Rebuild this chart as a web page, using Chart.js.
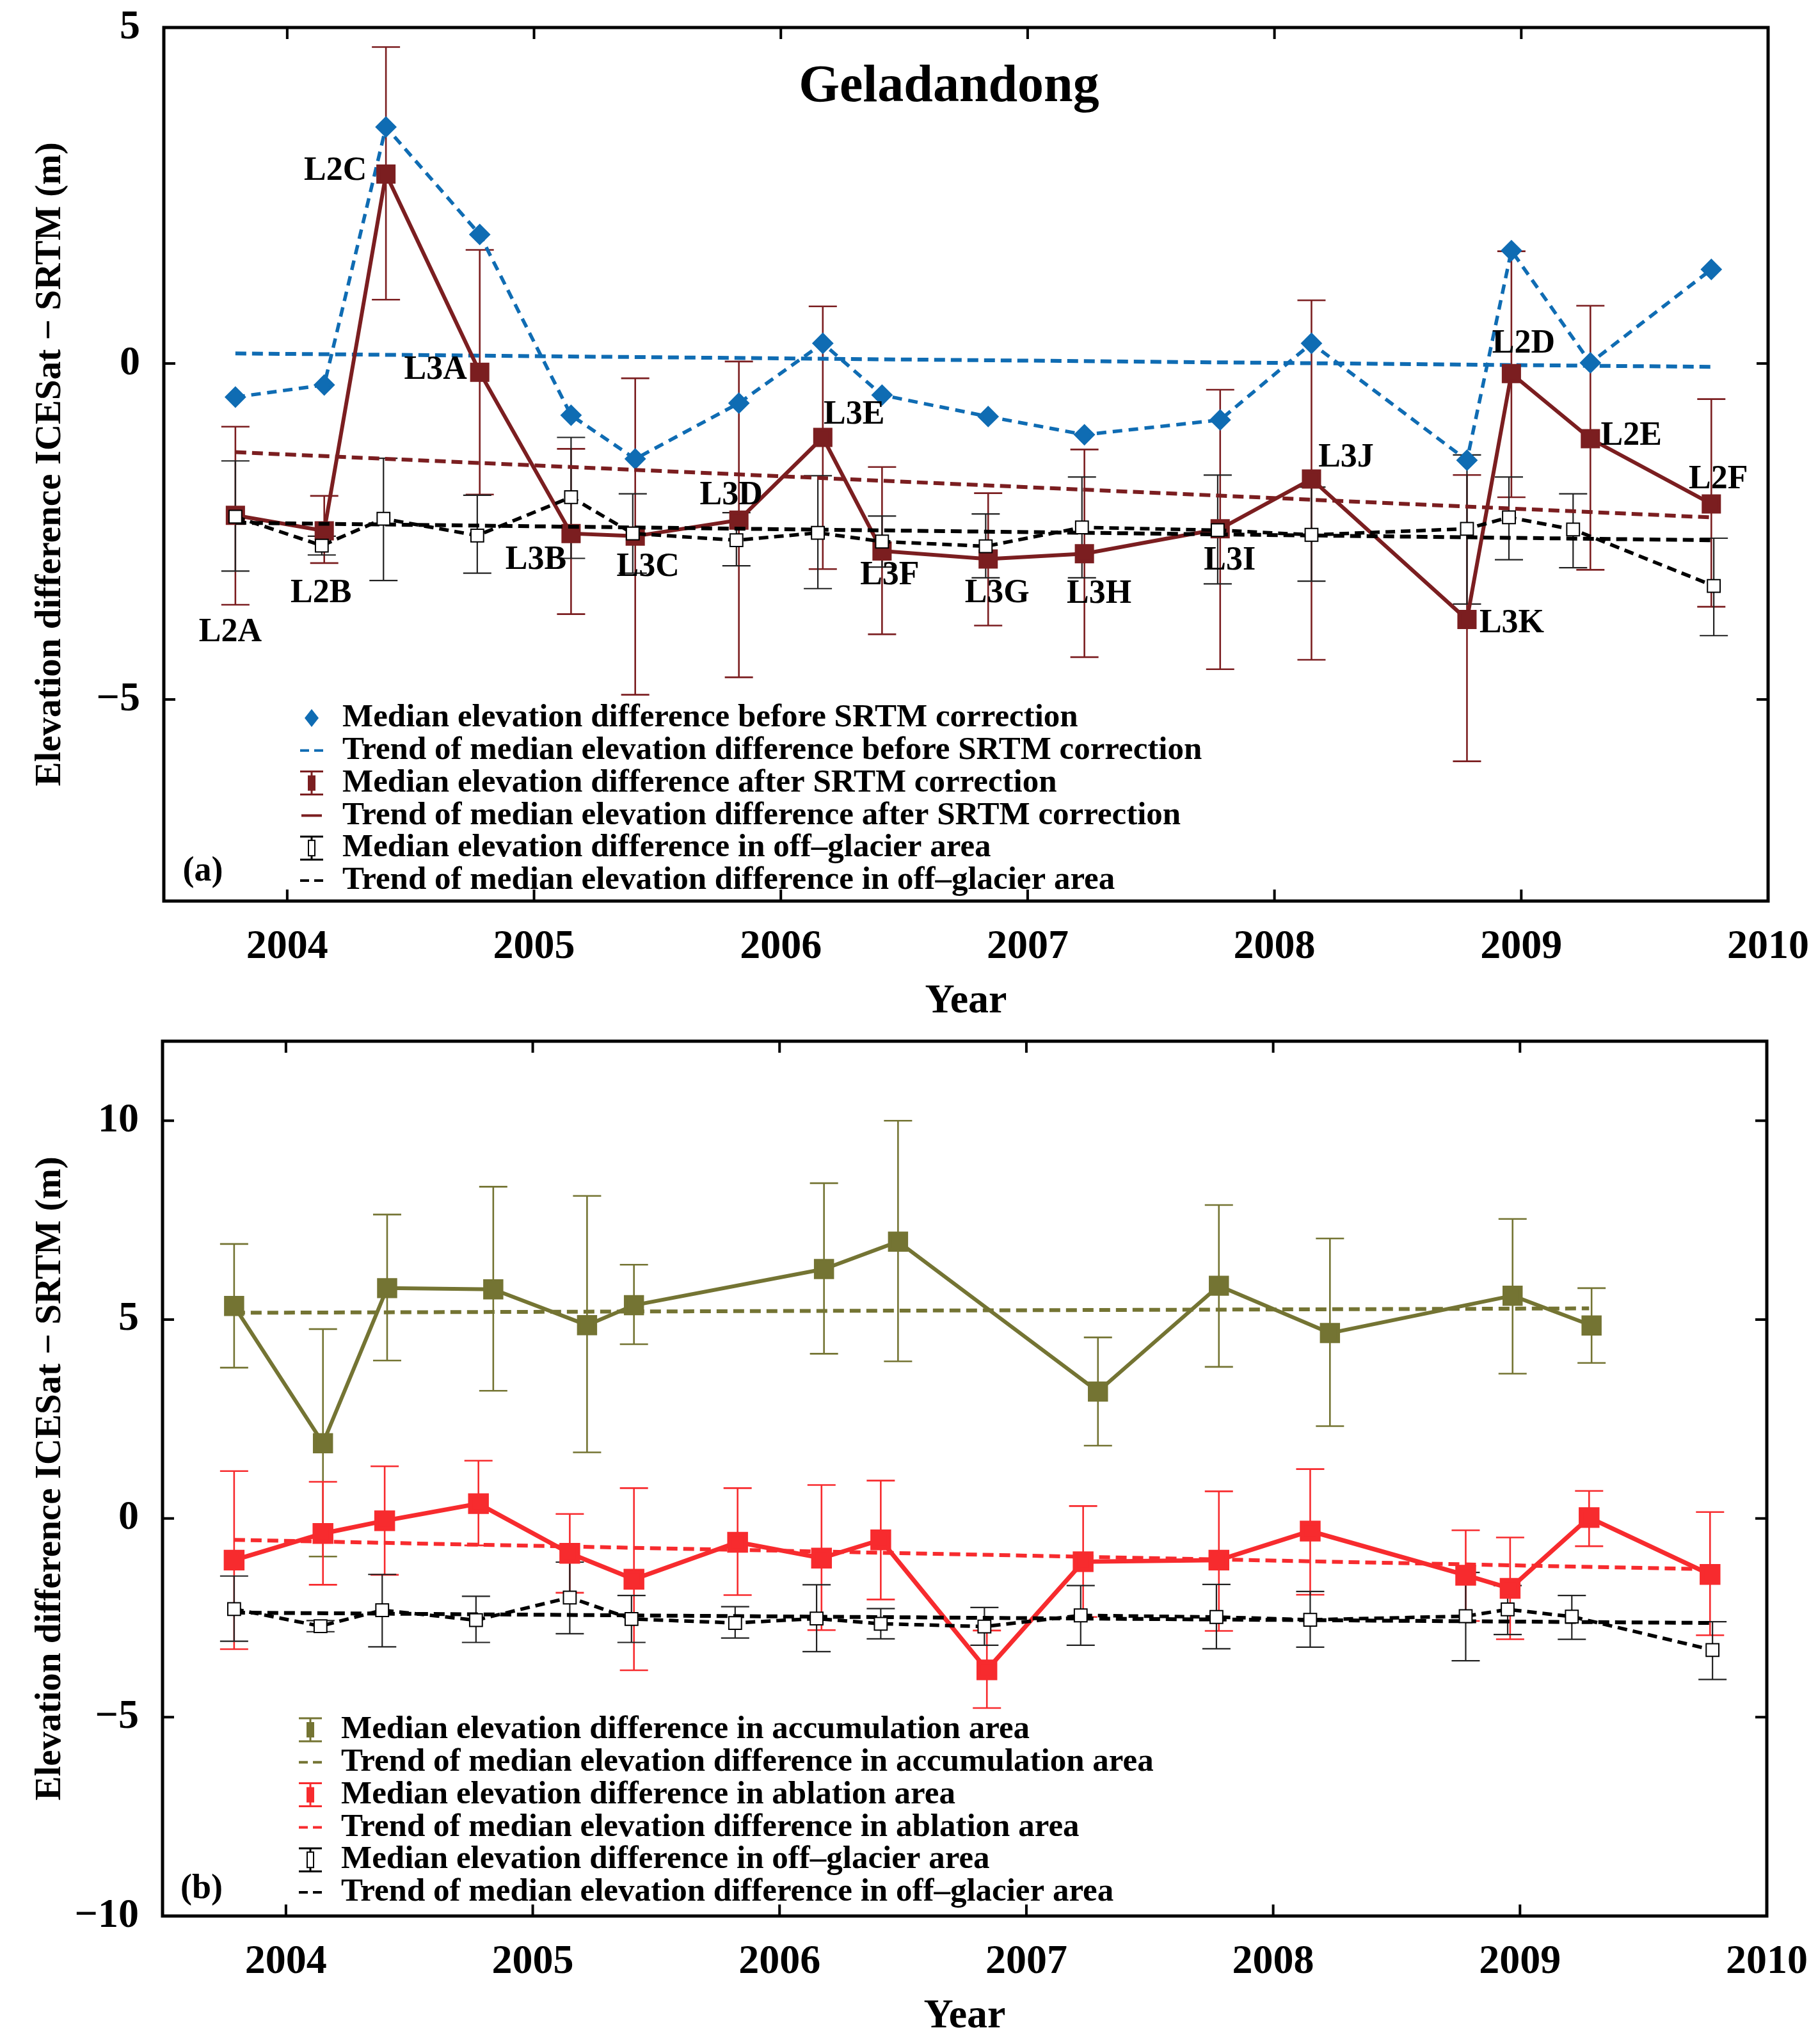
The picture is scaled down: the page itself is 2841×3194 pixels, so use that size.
<!DOCTYPE html>
<html>
<head>
<meta charset="utf-8">
<title>Geladandong</title>
<script src="https://cdn.jsdelivr.net/npm/chart.js@4.4.1/dist/chart.umd.min.js"></script>
<style>
  body { margin: 0; background: #fff; }
  canvas { position: absolute; left: 0; }
</style>
</head>
<body>
<canvas id="panelA" width="2841" height="1600" style="top:0"></canvas>
<canvas id="panelB" width="2841" height="1594" style="top:1600px"></canvas>
<script>
// ICESat campaigns and their dates (decimal year)
let campaigns = ["L2A", "L2B", "L2C", "L3A", "L3B", "L3C", "L3D", "L3E", "L3F", "L3G", "L3H", "L3I", "L3J", "L3K", "L2D", "L2E", "L2F"];
let campaignYears = [2003.79, 2004.15, 2004.40, 2004.78, 2005.15, 2005.41, 2005.83, 2006.17, 2006.41, 2006.84, 2007.23, 2007.78, 2008.15, 2008.78, 2008.96, 2009.28, 2009.77];

// panel (a)
let medianBefore = [-0.50, -0.32, 3.52, 1.92, -0.77, -1.42, -0.59, 0.30, -0.47, -0.79, -1.06, -0.84, 0.30, -1.44, 1.68, 0.01, 1.40];
let medianAfter = [-2.26, -2.49, 2.82, -0.13, -2.53, -2.57, -2.33, -1.10, -2.79, -2.91, -2.83, -2.46, -1.72, -3.81, -0.15, -1.12, -2.09];
let afterHigh = [-0.94, -1.97, 4.71, 1.69, -1.27, -0.22, 0.03, 0.85, -1.54, -1.93, -1.28, -0.39, 0.94, -1.66, 1.67, 0.86, -0.53];
let afterLow = [-3.59, -2.97, 0.95, -1.95, -3.73, -4.93, -4.67, -3.06, -4.03, -3.90, -4.37, -4.55, -4.41, -5.92, -1.99, -3.07, -3.62];

// off-glacier (same in both panels)
let offYears = [2003.79, 2004.14, 2004.39, 2004.77, 2005.15, 2005.40, 2005.82, 2006.15, 2006.41, 2006.83, 2007.22, 2007.77, 2008.15, 2008.78, 2008.95, 2009.21, 2009.78];
let offGlacier = [-2.28, -2.71, -2.31, -2.56, -1.99, -2.53, -2.63, -2.52, -2.65, -2.72, -2.44, -2.48, -2.55, -2.46, -2.29, -2.47, -3.31];
let offHigh = [-1.45, -2.57, -1.41, -1.96, -1.10, -1.94, -2.22, -1.67, -2.27, -2.24, -1.69, -1.66, -1.84, -1.36, -1.69, -1.94, -2.60];
let offLow = [-3.09, -2.85, -3.23, -3.12, -2.90, -3.12, -3.01, -3.35, -3.03, -3.19, -3.19, -3.28, -3.24, -3.58, -2.92, -3.04, -4.05];

// panel (b)
let accYears = [2003.79, 2004.15, 2004.41, 2004.84, 2005.22, 2005.41, 2006.18, 2006.48, 2007.29, 2007.78, 2008.23, 2008.97, 2009.29];
let accumulation = [5.34, 1.89, 5.79, 5.76, 4.86, 5.36, 6.27, 6.96, 3.19, 5.85, 4.66, 5.60, 4.85];
let accHigh = [6.90, 4.76, 7.64, 8.34, 8.11, 6.38, 8.43, 10.0, 4.55, 7.88, 7.04, 7.53, 5.79];
let accLow = [3.79, -0.96, 3.97, 3.21, 1.66, 4.38, 4.14, 3.95, 1.83, 3.81, 2.32, 3.64, 3.91];

let ablation = [-1.05, -0.38, -0.06, 0.37, -0.88, -1.53, -0.60, -1.00, -0.54, -3.81, -1.09, -1.05, -0.32, -1.43, -1.76, 0.02, -1.41];
let ablHigh = [1.19, 0.92, 1.31, 1.45, 0.11, 0.76, 0.76, 0.84, 0.95, -2.82, 0.31, 0.68, 1.24, -0.30, -0.48, 0.69, 0.16];
let ablLow = [-3.29, -1.67, -1.42, -0.68, -1.87, -3.82, -1.93, -2.81, -2.04, -4.77, -2.48, -2.83, -1.92, -2.58, -3.04, -0.70, -2.94];

// trend lines (start, end)
let trendYears = [2003.79, 2009.77];
let trendBefore = [0.15, -0.05];
let trendAfter = [-1.32, -2.29];
let trendOff = [-2.37, -2.63];
let accTrendYears = [2003.79, 2009.28];
let trendAcc = [5.17, 5.28];
let trendAbl = [-0.54, -1.28];

let xTicks = [2004, 2005, 2006, 2007, 2008, 2009, 2010];
let yTicksA = [-5, 0, 5];
let yTicksB = [-10, -5, 0, 5, 10];

const FONT = '"Liberation Serif", "Times New Roman", serif';
const BLUE = '#0f6cb3', MAROON = '#7b1e20', OLIVE = '#747433', RED = '#f72b2e';

// where the campaign names sit relative to the after-correction markers
const labelOffsets = [[-8, 183], [-5, 98], [-79, -4], [-69, -3], [-55, 42], [20, 49], [-12, -38], [49, -35], [12, 39],
  [14, 54], [23, 63], [15, 50], [54, -33], [70, 7], [19, -46], [64, -4], [11, -38]];

function pts(xs, ys) {
  return xs.map((x, i) => ({ x: x, y: ys[i] }));
}

const errorBars = {
  id: 'errorBars',
  beforeDatasetsDraw(chart) {
    const { ctx, scales: { x, y } } = chart;
    chart.data.datasets.forEach(ds => {
      if (!ds.errHigh) return;
      ctx.save();
      ctx.strokeStyle = ds.errColor;
      ctx.lineWidth = ds.errWidth;
      ds.data.forEach((p, i) => {
        const px = x.getPixelForValue(p.x);
        const hi = y.getPixelForValue(ds.errHigh[i]);
        const lo = y.getPixelForValue(ds.errLow[i]);
        ctx.beginPath();
        ctx.moveTo(px, hi); ctx.lineTo(px, lo);
        ctx.moveTo(px - 22, hi); ctx.lineTo(px + 22, hi);
        ctx.moveTo(px - 22, lo); ctx.lineTo(px + 22, lo);
        ctx.stroke();
      });
      ctx.restore();
    });
  }
};

const frame = {
  id: 'frame',
  afterDraw(chart) {
    const { ctx, chartArea: a, scales: { x, y } } = chart;
    ctx.save();
    ctx.strokeStyle = '#000';
    ctx.lineWidth = 5;
    ctx.strokeRect(a.left, a.top, a.right - a.left, a.bottom - a.top);
    ctx.lineWidth = 4;
    ctx.beginPath();
    x.ticks.forEach(t => {
      const px = x.getPixelForValue(t.value);
      ctx.moveTo(px, a.bottom); ctx.lineTo(px, a.bottom - 18);
      ctx.moveTo(px, a.top); ctx.lineTo(px, a.top + 18);
    });
    y.ticks.forEach(t => {
      const py = y.getPixelForValue(t.value);
      ctx.moveTo(a.left, py); ctx.lineTo(a.left + 18, py);
      ctx.moveTo(a.right, py); ctx.lineTo(a.right - 18, py);
    });
    ctx.stroke();
    ctx.restore();
  }
};

const keyBox = {
  id: 'keyBox',
  afterDraw(chart, args, opts) {
    const { ctx, chartArea: a } = chart;
    ctx.save();
    ctx.textBaseline = 'middle';
    ctx.textAlign = 'left';
    ctx.font = 'bold 51px ' + FONT;
    chart.data.datasets.forEach((ds, i) => {
      const cy = a.bottom + opts.first + i * opts.step;
      const cx = a.left + 231;
      ctx.strokeStyle = ds.borderColor;
      ctx.fillStyle = ds.borderColor;
      if (ds.key === 'diamond') {
        ctx.beginPath();
        ctx.moveTo(cx, cy - 14); ctx.lineTo(cx + 11, cy); ctx.lineTo(cx, cy + 14); ctx.lineTo(cx - 11, cy);
        ctx.closePath(); ctx.fill();
      } else if (ds.key === 'dash' || ds.key === 'line') {
        ctx.lineWidth = 4;
        ctx.beginPath();
        if (ds.key === 'dash') {
          ctx.moveTo(cx - 18, cy); ctx.lineTo(cx - 4, cy);
          ctx.moveTo(cx + 4, cy); ctx.lineTo(cx + 18, cy);
        } else {
          ctx.moveTo(cx - 16, cy); ctx.lineTo(cx + 16, cy);
        }
        ctx.stroke();
      } else {
        ctx.lineWidth = 3;
        ctx.beginPath();
        ctx.moveTo(cx, cy - 18); ctx.lineTo(cx, cy + 18);
        ctx.moveTo(cx - 18, cy - 18); ctx.lineTo(cx + 18, cy - 18);
        ctx.moveTo(cx - 18, cy + 18); ctx.lineTo(cx + 18, cy + 18);
        ctx.stroke();
        if (ds.key === 'open') {
          ctx.fillStyle = '#fff';
          ctx.fillRect(cx - 5, cy - 12, 10, 24);
          ctx.lineWidth = 2;
          ctx.strokeRect(cx - 5, cy - 12, 10, 24);
        } else {
          ctx.fillRect(cx - 6, cy - 12, 12, 24);
        }
      }
      ctx.fillStyle = '#000';
      ctx.fillText(ds.label, a.left + 279, cy);
    });
    ctx.restore();
  }
};

const notes = {
  id: 'notes',
  afterDraw(chart, args, opts) {
    const { ctx, chartArea: a } = chart;
    ctx.save();
    ctx.fillStyle = '#000';
    ctx.textAlign = 'center';
    if (opts.title) {
      ctx.font = 'bold 82px ' + FONT;
      ctx.textBaseline = 'alphabetic';
      ctx.fillText(opts.title, a.left + 1227, a.top + 115);
    }
    ctx.textBaseline = 'middle';
    ctx.font = 'bold 54px ' + FONT;
    ctx.fillText(opts.panel, a.left + 61, a.bottom + opts.panelY);
    if (opts.tagged != null) {
      ctx.font = 'bold 52px ' + FONT;
      chart.getDatasetMeta(opts.tagged).data.forEach((pt, i) => {
        ctx.fillText(campaigns[i], pt.x + labelOffsets[i][0], pt.y + labelOffsets[i][1]);
      });
    }
    ctx.restore();
  }
};

function minus(v) {
  return v < 0 ? '\u2212' + Math.abs(v) : String(v);
}

function options(cfg) {
  return {
    responsive: false,
    animation: false,
    devicePixelRatio: 1,
    layout: { padding: { left: 0, right: cfg.right, top: cfg.top, bottom: 0 } },
    plugins: {
      legend: { display: false },
      tooltip: { enabled: false },
      keyBox: { first: cfg.keyFirst, step: 50.8 },
      notes: { title: cfg.title, panel: cfg.panel, panelY: cfg.panelY, tagged: cfg.tagged }
    },
    scales: {
      x: {
        type: 'linear', min: 2003.5, max: 2010,
        afterBuildTicks: s => { s.ticks = xTicks.map(v => ({ value: v })); },
        afterFit: s => { s.height = cfg.xHeight; s.paddingLeft = 0; s.paddingRight = 0; },
        grid: { display: false, drawTicks: false },
        border: { display: false },
        ticks: { color: '#000', padding: 34, maxRotation: 0, autoSkip: false,
          font: { family: FONT, size: 64, weight: 'bold' }, callback: v => String(v) },
        title: { display: true, text: 'Year', color: '#000',
          font: { family: FONT, size: 64, weight: 'bold', lineHeight: 1 }, padding: { top: 0, bottom: cfg.yearPad } }
      },
      y: {
        type: 'linear', min: cfg.yMin, max: cfg.yMax,
        afterBuildTicks: s => { s.ticks = cfg.yTicks.map(v => ({ value: v })); },
        afterFit: s => { s.width = cfg.yWidth; s.paddingTop = 0; s.paddingBottom = 0; },
        grid: { display: false, drawTicks: false },
        border: { display: false },
        ticks: { color: '#000', padding: 37, autoSkip: false,
          font: { family: FONT, size: 64, weight: 'bold' }, callback: v => minus(v) },
        title: { display: true, text: 'Elevation difference ICESat \u2212 SRTM (m)', color: '#000',
          font: { family: FONT, size: 57, weight: 'bold', lineHeight: 1.2 }, padding: { top: 45, bottom: 0 } }
      }
    }
  };
}

function markerSet(label, xs, ys, color, style, radius, extra) {
  return Object.assign({
    label: label, data: pts(xs, ys), borderColor: color, backgroundColor: color,
    pointBackgroundColor: color, pointBorderColor: color, pointStyle: style,
    pointRadius: radius, borderWidth: 6, tension: 0, fill: false
  }, extra);
}

function trendSet(label, xs, ys, color, order, key) {
  return { label: label, data: pts(xs, ys), borderColor: color, backgroundColor: color, borderWidth: 6,
    borderDash: [17, 9], pointRadius: 0, fill: false, order: order, key: key || 'dash' };
}

function offGlacierSets(order) {
  return [
    markerSet('Median elevation difference in off\u2013glacier area', offYears, offGlacier, '#000', 'rect', 14,
      { pointBackgroundColor: '#fff', pointBorderWidth: 2, borderWidth: 5.5, borderDash: [15, 9], order: order, key: 'open',
        errHigh: offHigh, errLow: offLow, errColor: '#222', errWidth: 2.2 }),
    trendSet('Trend of median elevation difference in off\u2013glacier area', trendYears, trendOff, '#000', order + 1)
  ];
}

let chartA = new Chart(document.getElementById('panelA'), {
  type: 'line',
  data: {
    datasets: [
      markerSet('Median elevation difference before SRTM correction', campaignYears, medianBefore, BLUE, 'rectRot', 13,
        { borderWidth: 5.5, borderDash: [15, 10], order: 4, key: 'diamond' }),
      trendSet('Trend of median elevation difference before SRTM correction', trendYears, trendBefore, BLUE, 5),
      markerSet('Median elevation difference after SRTM correction', campaignYears, medianAfter, MAROON, 'rect', 17,
        { order: 2, key: 'bar', errHigh: afterHigh, errLow: afterLow, errColor: MAROON, errWidth: 2.6 }),
      trendSet('Trend of median elevation difference after SRTM correction', trendYears, trendAfter, MAROON, 3, 'line'),
      ...offGlacierSets(0)
    ]
  },
  plugins: [errorBars, frame, keyBox, notes],
  options: options({ right: 78, top: 43, yWidth: 256, xHeight: 192, yearPad: 3, yMin: -8, yMax: 5, yTicks: yTicksA,
    keyFirst: -286, title: 'Geladandong', panel: '(a)', panelY: -46, tagged: 2 })
});

let chartB = new Chart(document.getElementById('panelB'), {
  type: 'line',
  data: {
    datasets: [
      markerSet('Median elevation difference in accumulation area', accYears, accumulation, OLIVE, 'rect', 18,
        { order: 4, key: 'bar', errHigh: accHigh, errLow: accLow, errColor: OLIVE, errWidth: 2.6 }),
      trendSet('Trend of median elevation difference in accumulation area', accTrendYears, trendAcc, OLIVE, 5),
      markerSet('Median elevation difference in ablation area', campaignYears, ablation, RED, 'rect', 18,
        { borderWidth: 7, order: 2, key: 'bar', errHigh: ablHigh, errLow: ablLow, errColor: RED, errWidth: 2.6 }),
      trendSet('Trend of median elevation difference in ablation area', trendYears, trendAbl, RED, 3),
      ...offGlacierSets(0)
    ]
  },
  plugins: [errorBars, frame, keyBox, notes],
  options: options({ right: 80, top: 27, yWidth: 254, xHeight: 200, yearPad: 11, yMin: -10, yMax: 12, yTicks: yTicksB,
    keyFirst: -291, title: null, panel: '(b)', panelY: -42, tagged: null })
});
</script>
</body>
</html>
